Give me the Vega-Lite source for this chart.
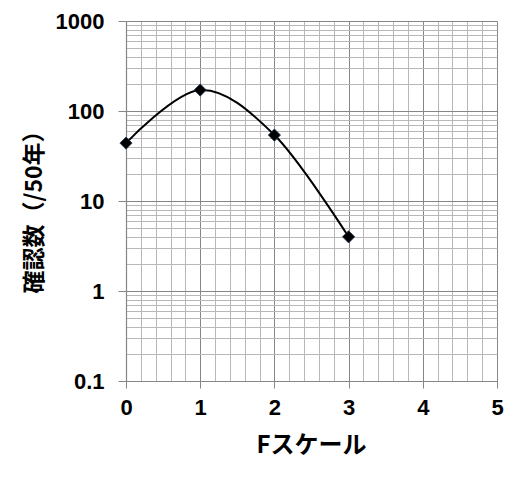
{
  "$schema": "https://vega.github.io/schema/vega-lite/v6.json",
  "autosize": "none",
  "width": 371,
  "height": 360,
  "padding": {"left": 126, "top": 21, "right": 22, "bottom": 98},
  "background": "white",
  "config": {"view": {"stroke": null}},
  "data": {"values": [
    {"F": 0, "count": 44},
    {"F": 1, "count": 171},
    {"F": 2, "count": 54},
    {"F": 3, "count": 4}
  ]},
  "mark": {"type": "line", "interpolate": "cardinal", "color": "black", "strokeWidth": 2,
    "point": {"shape": "diamond", "size": 150, "filled": true, "color": "black", "stroke": "#1f3550", "strokeWidth": 0.8}},
  "encoding": {
    "x": {"field": "F", "type": "quantitative",
      "scale": {"domain": [0, 5], "nice": false, "zero": false},
      "axis": {
        "title": "Fスケール",
        "values": [0,0.2,0.4,0.6,0.8,1,1.2,1.4,1.6,1.8,2,2.2,2.4,2.6,2.8,3,3.2,3.4,3.6,3.8,4,4.2,4.4,4.6,4.8,5],
        "labelExpr": "datum.value % 1 === 0 ? format(datum.value, 'd') : ''",
        "grid": true,
        "gridColor": {"condition": {"test": "datum.value % 1 === 0", "value": "#868686"}, "value": "#b8b8b8"},
        "gridWidth": 1,
        "domainColor": "#868686",
        "domainWidth": 1.2,
        "tickColor": "#868686",
        "tickSize": {"condition": {"test": "datum.value % 1 === 0", "value": 7}, "value": 0},
        "labelFont": "Liberation Sans",
        "labelFontWeight": "bold",
        "labelFontSize": 22,
        "labelColor": "black",
        "labelPadding": 9,
        "labelFlush": false,
        "labelOverlap": false,
        "titleFont": "Noto Sans CJK JP",
        "titleFontWeight": "bold",
        "titleFontSize": 24,
        "titleColor": "black",
        "titleX": 185,
        "titleY": 64,
        "titleBaseline": "middle",
        "titleAlign": "center"
      }
    },
    "y": {"field": "count", "type": "quantitative",
      "scale": {"type": "log", "domain": [0.1, 1000], "nice": false},
      "axis": {
        "title": "確認数（/50年）",
        "values": [0.1,0.2,0.3,0.4,0.5,0.6,0.7,0.8,0.9,1,2,3,4,5,6,7,8,9,10,20,30,40,50,60,70,80,90,100,200,300,400,500,600,700,800,900,1000],
        "labelExpr": "abs(log(datum.value)/LN10 - round(log(datum.value)/LN10)) < 1e-6 ? (datum.value < 1 ? '0.1' : format(datum.value, 'd')) : ''",
        "grid": true,
        "gridColor": {"condition": {"test": "abs(log(datum.value)/LN10 - round(log(datum.value)/LN10)) < 1e-6", "value": "#868686"}, "value": "#b8b8b8"},
        "gridWidth": 1,
        "domainColor": "#868686",
        "domainWidth": 1.2,
        "tickColor": "#868686",
        "tickSize": {"condition": {"test": "abs(log(datum.value)/LN10 - round(log(datum.value)/LN10)) < 1e-6", "value": 8}, "value": 0},
        "labelFont": "Liberation Sans",
        "labelFontWeight": "bold",
        "labelFontSize": 22,
        "labelColor": "black",
        "labelPadding": 14,
        "labelFlush": false,
        "labelOverlap": false,
        "titleFont": "Noto Sans CJK JP",
        "titleFontWeight": "bold",
        "titleFontSize": 23,
        "titleColor": "black",
        "titleAngle": -90,
        "titleX": -92,
        "titleY": 185,
        "titleBaseline": "middle",
        "titleAlign": "center"
      }
    }
  }
}
